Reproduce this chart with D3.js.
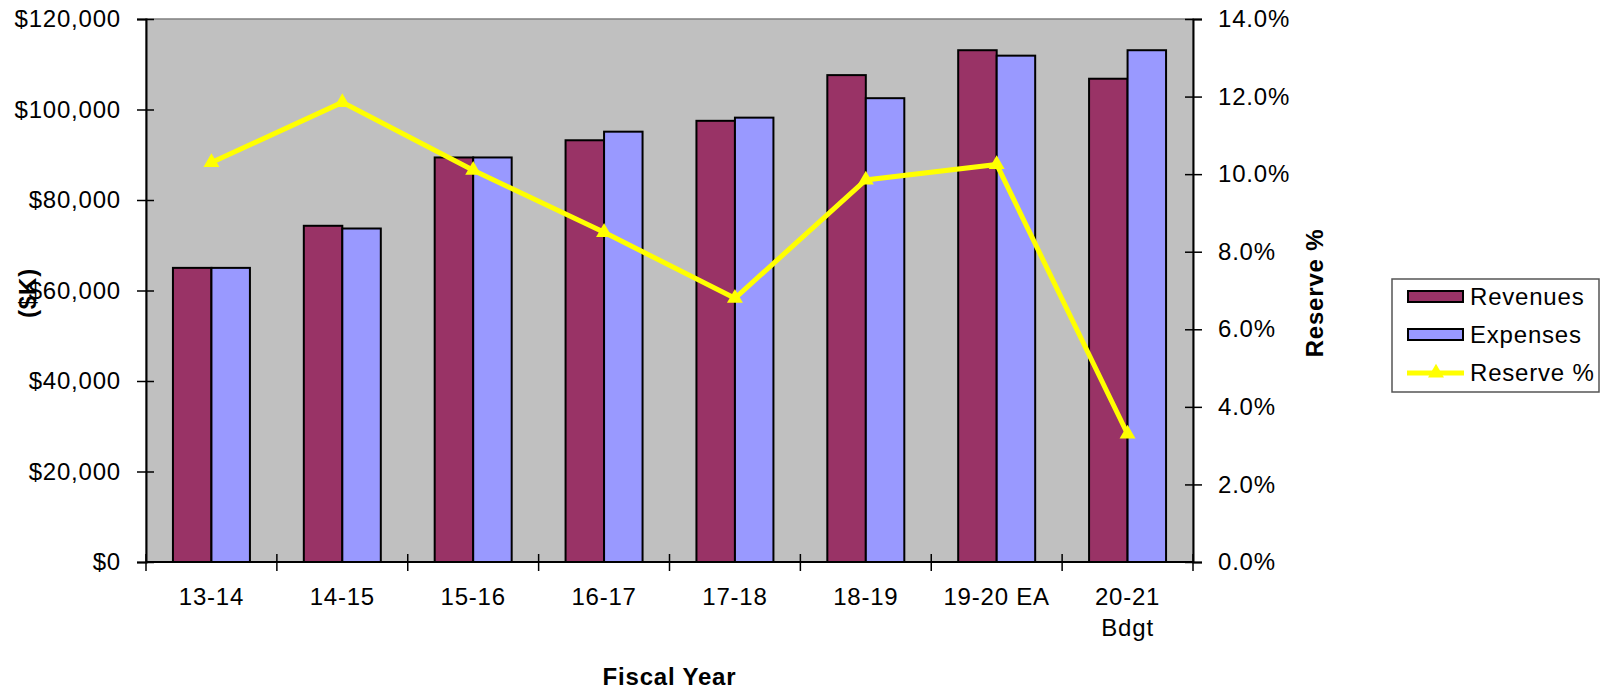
<!DOCTYPE html>
<html>
<head>
<meta charset="utf-8">
<script src="https://cdn.jsdelivr.net/npm/d3@7"></script>
<style>
  html, body { margin: 0; padding: 0; background: #fff; }
  svg { display: block; font-family: "Liberation Sans", Arial, sans-serif; letter-spacing: 0.8px; }
</style>
</head>
<body>
<svg id="chart" width="1602" height="689"></svg>
<script>
// Fiscal years shown on the x axis
const categories = ["13-14", "14-15", "15-16", "16-17", "17-18", "18-19", "19-20 EA", "20-21 Bdgt"];
// Revenues and expenses in $K
const revenues = [65000, 74300, 89400, 93200, 97500, 107600, 113100, 106800];
const expenses = [65000, 73700, 89400, 95100, 98200, 102500, 111900, 113100];
// Reserve as percent of expenses
const reservePct = [10.3, 11.85, 10.1, 8.5, 6.8, 9.85, 10.25, 3.3];
// Axis ticks
const dollarTicks = [0, 20000, 40000, 60000, 80000, 100000, 120000];
const pctTicks = [0, 2, 4, 6, 8, 10, 12, 14];
const seriesNames = ["Revenues", "Expenses", "Reserve %"];

const colors = { Revenues: "#993366", Expenses: "#9999FF", "Reserve %": "#FFFF00" };

const svg = d3.select("#chart");
const margin = { left: 146, right: 1193, top: 19, bottom: 562 };

const x0 = d3.scaleBand().domain(categories).range([margin.left, margin.right]).padding(0);
const x1 = d3.scaleBand().domain(["Revenues", "Expenses"]).range([0, x0.bandwidth()])
  .paddingInner(0).paddingOuter(0.7);
const yL = d3.scaleLinear().domain([0, 120000]).range([margin.bottom, margin.top]);
const yR = d3.scaleLinear().domain([0, 14]).range([margin.bottom, margin.top]);

// plot area
svg.append("rect")
  .attr("x", margin.left).attr("y", margin.top)
  .attr("width", margin.right - margin.left).attr("height", margin.bottom - margin.top)
  .attr("fill", "#C0C0C0").attr("stroke", "#808080").attr("stroke-width", 1.5);

// bars
const rows = categories.map((c, i) => ({ cat: c, Revenues: revenues[i], Expenses: expenses[i] }));
const groups = svg.append("g").selectAll("g").data(rows).join("g")
  .attr("transform", d => `translate(${x0(d.cat)},0)`);
groups.selectAll("rect")
  .data(d => ["Revenues", "Expenses"].map(k => ({ key: k, value: d[k] })))
  .join("rect")
  .attr("x", d => x1(d.key))
  .attr("y", d => yL(d.value))
  .attr("width", x1.bandwidth())
  .attr("height", d => yL(0) - yL(d.value))
  .attr("fill", d => colors[d.key])
  .attr("stroke", "#000").attr("stroke-width", 2);

// reserve line
const lineData = categories.map((c, i) => ({ cat: c, v: reservePct[i] }));
const line = d3.line().x(d => x0(d.cat) + x0.bandwidth() / 2).y(d => yR(d.v));
svg.append("path").datum(lineData)
  .attr("d", line).attr("fill", "none")
  .attr("stroke", colors["Reserve %"]).attr("stroke-width", 5).attr("stroke-linejoin", "miter");
const tri = d3.symbol().type(d3.symbolTriangle).size(110);
svg.append("g").selectAll("path").data(lineData).join("path")
  .attr("d", tri)
  .attr("transform", d => `translate(${x0(d.cat) + x0.bandwidth() / 2},${yR(d.v)})`)
  .attr("fill", colors["Reserve %"]);

const fontSize = 24;
const fam = "Liberation Sans, Arial, sans-serif";

// left axis
const axL = svg.append("g").attr("transform", `translate(${margin.left},0)`)
  .call(d3.axisLeft(yL).tickValues(dollarTicks).tickSize(9)
    .tickFormat(d => "$" + d3.format(",")(d)));
axL.select(".domain").attr("stroke", "#000").attr("stroke-width", 2);
axL.selectAll(".tick line").attr("x1", -9).attr("x2", 8).attr("stroke", "#000").attr("stroke-width", 1.5);
axL.selectAll(".tick text").attr("x", -25).attr("font-size", fontSize)
  .attr("font-family", fam).attr("fill", "#000");

// right axis
const axR = svg.append("g").attr("transform", `translate(${margin.right},0)`)
  .call(d3.axisRight(yR).tickValues(pctTicks).tickSize(9)
    .tickFormat(d => d3.format(".1f")(d) + "%"));
axR.select(".domain").attr("stroke", "#000").attr("stroke-width", 2);
axR.selectAll(".tick line").attr("x1", -8).attr("x2", 9).attr("stroke", "#000").attr("stroke-width", 1.5);
axR.selectAll(".tick text").attr("x", 25).attr("font-size", fontSize)
  .attr("font-family", fam).attr("fill", "#000");

// bottom axis: ticks at category boundaries
const axB = svg.append("g").attr("transform", `translate(0,${margin.bottom})`);
axB.append("line").attr("x1", margin.left).attr("x2", margin.right)
  .attr("stroke", "#000").attr("stroke-width", 2);
const bounds = categories.map(c => x0(c)).concat([margin.right]);
axB.selectAll("line.tk").data(bounds).join("line").attr("class", "tk")
  .attr("x1", d => d).attr("x2", d => d).attr("y1", -8).attr("y2", 9)
  .attr("stroke", "#000").attr("stroke-width", 1.5);
const labels = axB.selectAll("text").data(categories).join("text")
  .attr("text-anchor", "middle").attr("font-size", fontSize).attr("fill", "#000")
  .attr("transform", d => `translate(${x0(d) + x0.bandwidth() / 2},43)`);
labels.each(function (d) {
  const parts = d === "20-21 Bdgt" ? ["20-21", "Bdgt"] : [d];
  d3.select(this).selectAll("tspan").data(parts).join("tspan")
    .attr("x", 0).attr("dy", (p, i) => i === 0 ? 0 : 31).text(p => p);
});

// axis titles
svg.append("text").attr("transform", "translate(36,293) rotate(-90)")
  .attr("text-anchor", "middle").attr("font-size", fontSize).attr("font-weight", "bold")
  .text("($K)");
svg.append("text").attr("transform", "translate(1323,293) rotate(-90)")
  .attr("text-anchor", "middle").attr("font-size", fontSize).attr("font-weight", "bold")
  .text("Reserve %");
svg.append("text").attr("x", (margin.left + margin.right) / 2).attr("y", 685)
  .attr("text-anchor", "middle").attr("font-size", fontSize).attr("font-weight", "bold")
  .text("Fiscal Year");

// legend
const lg = svg.append("g");
lg.append("rect").attr("x", 1392).attr("y", 279).attr("width", 207).attr("height", 113)
  .attr("fill", "#fff").attr("stroke", "#555").attr("stroke-width", 1.5);
const rowY = [297, 335, 373];
seriesNames.forEach((name, i) => {
  if (name === "Reserve %") {
    lg.append("line").attr("x1", 1407).attr("x2", 1464).attr("y1", rowY[i]).attr("y2", rowY[i])
      .attr("stroke", colors[name]).attr("stroke-width", 5);
    lg.append("path").attr("d", tri).attr("transform", `translate(1436,${rowY[i]})`)
      .attr("fill", colors[name]);
  } else {
    lg.append("rect").attr("x", 1408).attr("y", rowY[i] - 6).attr("width", 55).attr("height", 11)
      .attr("fill", colors[name]).attr("stroke", "#000").attr("stroke-width", 2);
  }
  lg.append("text").attr("x", 1470).attr("y", rowY[i]).attr("dy", "0.35em")
    .attr("font-size", fontSize).text(name);
});
</script>
</body>
</html>
